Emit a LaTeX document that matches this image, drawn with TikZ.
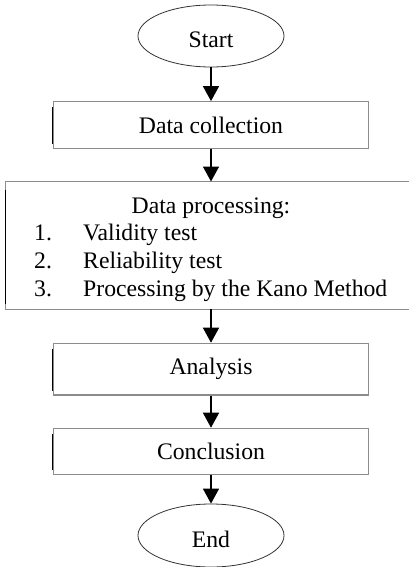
\documentclass[tikz,border=0pt]{standalone}
\usepackage{fontspec}
\setmainfont{Liberation Serif}
\usetikzlibrary{arrows.meta,shapes.geometric,calc}
\begin{document}
\begin{tikzpicture}[x=1pt,y=-1pt,
  every node/.style={font=\fontsize{23.7}{27.6}\selectfont, inner sep=0pt},
  term/.style={ellipse, draw=black!80, line width=0.8pt, minimum width=146pt, text height=23.5pt, text depth=0pt},
  procbox/.style={rectangle, draw=black!45, line width=1.2pt, minimum width=315.4pt},
  arr/.style={black, line width=1.5pt, -{Triangle[width=16pt,length=15pt]}},
  txt/.style={anchor=base}
]
\useasboundingbox (0,0) rectangle (409,567);
\fill[white] (0,0) rectangle (409,567);

\node[term, minimum height=62pt] (start) at (211,36) {Start};
\node[procbox, minimum height=46.6pt] (dc) at (211,125) {Data collection};
\node[rectangle, draw=none, minimum width=403pt, minimum height=127.3pt] (dp) at (207.5,245.35) {};
\node[procbox, minimum height=51.7pt] (an) at (211,369.15) {Analysis};
\node[procbox, minimum height=46pt] (co) at (211,451.3) {Conclusion};
\node[term, minimum height=63pt] (end) at (211,535.5) {End};

% dark left edges
\foreach \b in {dc,an,co}{
  \draw[black, line width=1.2pt] ([yshift=-6pt]\b.north west) -- ([yshift=5pt]\b.south west);
}

% data processing box (open on the right)
\draw[black!45, line width=1.2pt] (dp.north east) -- (dp.north west) -- (dp.south west) -- (dp.south east);
\draw[black, line width=1.2pt] ([yshift=-8pt]dp.north west) -- ([yshift=5pt]dp.south west);

\node[txt] (dph) at (211,213) {Data processing:};
\node[anchor=base west] (n1) at (34,240.7) {1.};
\node[anchor=base west] (t1) at (83,240.7) {Validity test};
\node[anchor=base west] (n2) at (34,268.3) {2.};
\node[anchor=base west] (t2) at (83,268.3) {Reliability test};
\node[anchor=base west] (n3) at (34,296) {3.};
\node[anchor=base west] (t3) at (83,296) {Processing by the Kano Method};

\draw[arr] (start.south) -- (dc.north);
\draw[arr] (dc.south) -- (dc.south |- dp.north);
\draw[arr] (an.north |- dp.south) -- (an.north);
\draw[arr] (an.south) -- (co.north);
\draw[arr] (co.south) -- (end.north);
\end{tikzpicture}
\end{document}
